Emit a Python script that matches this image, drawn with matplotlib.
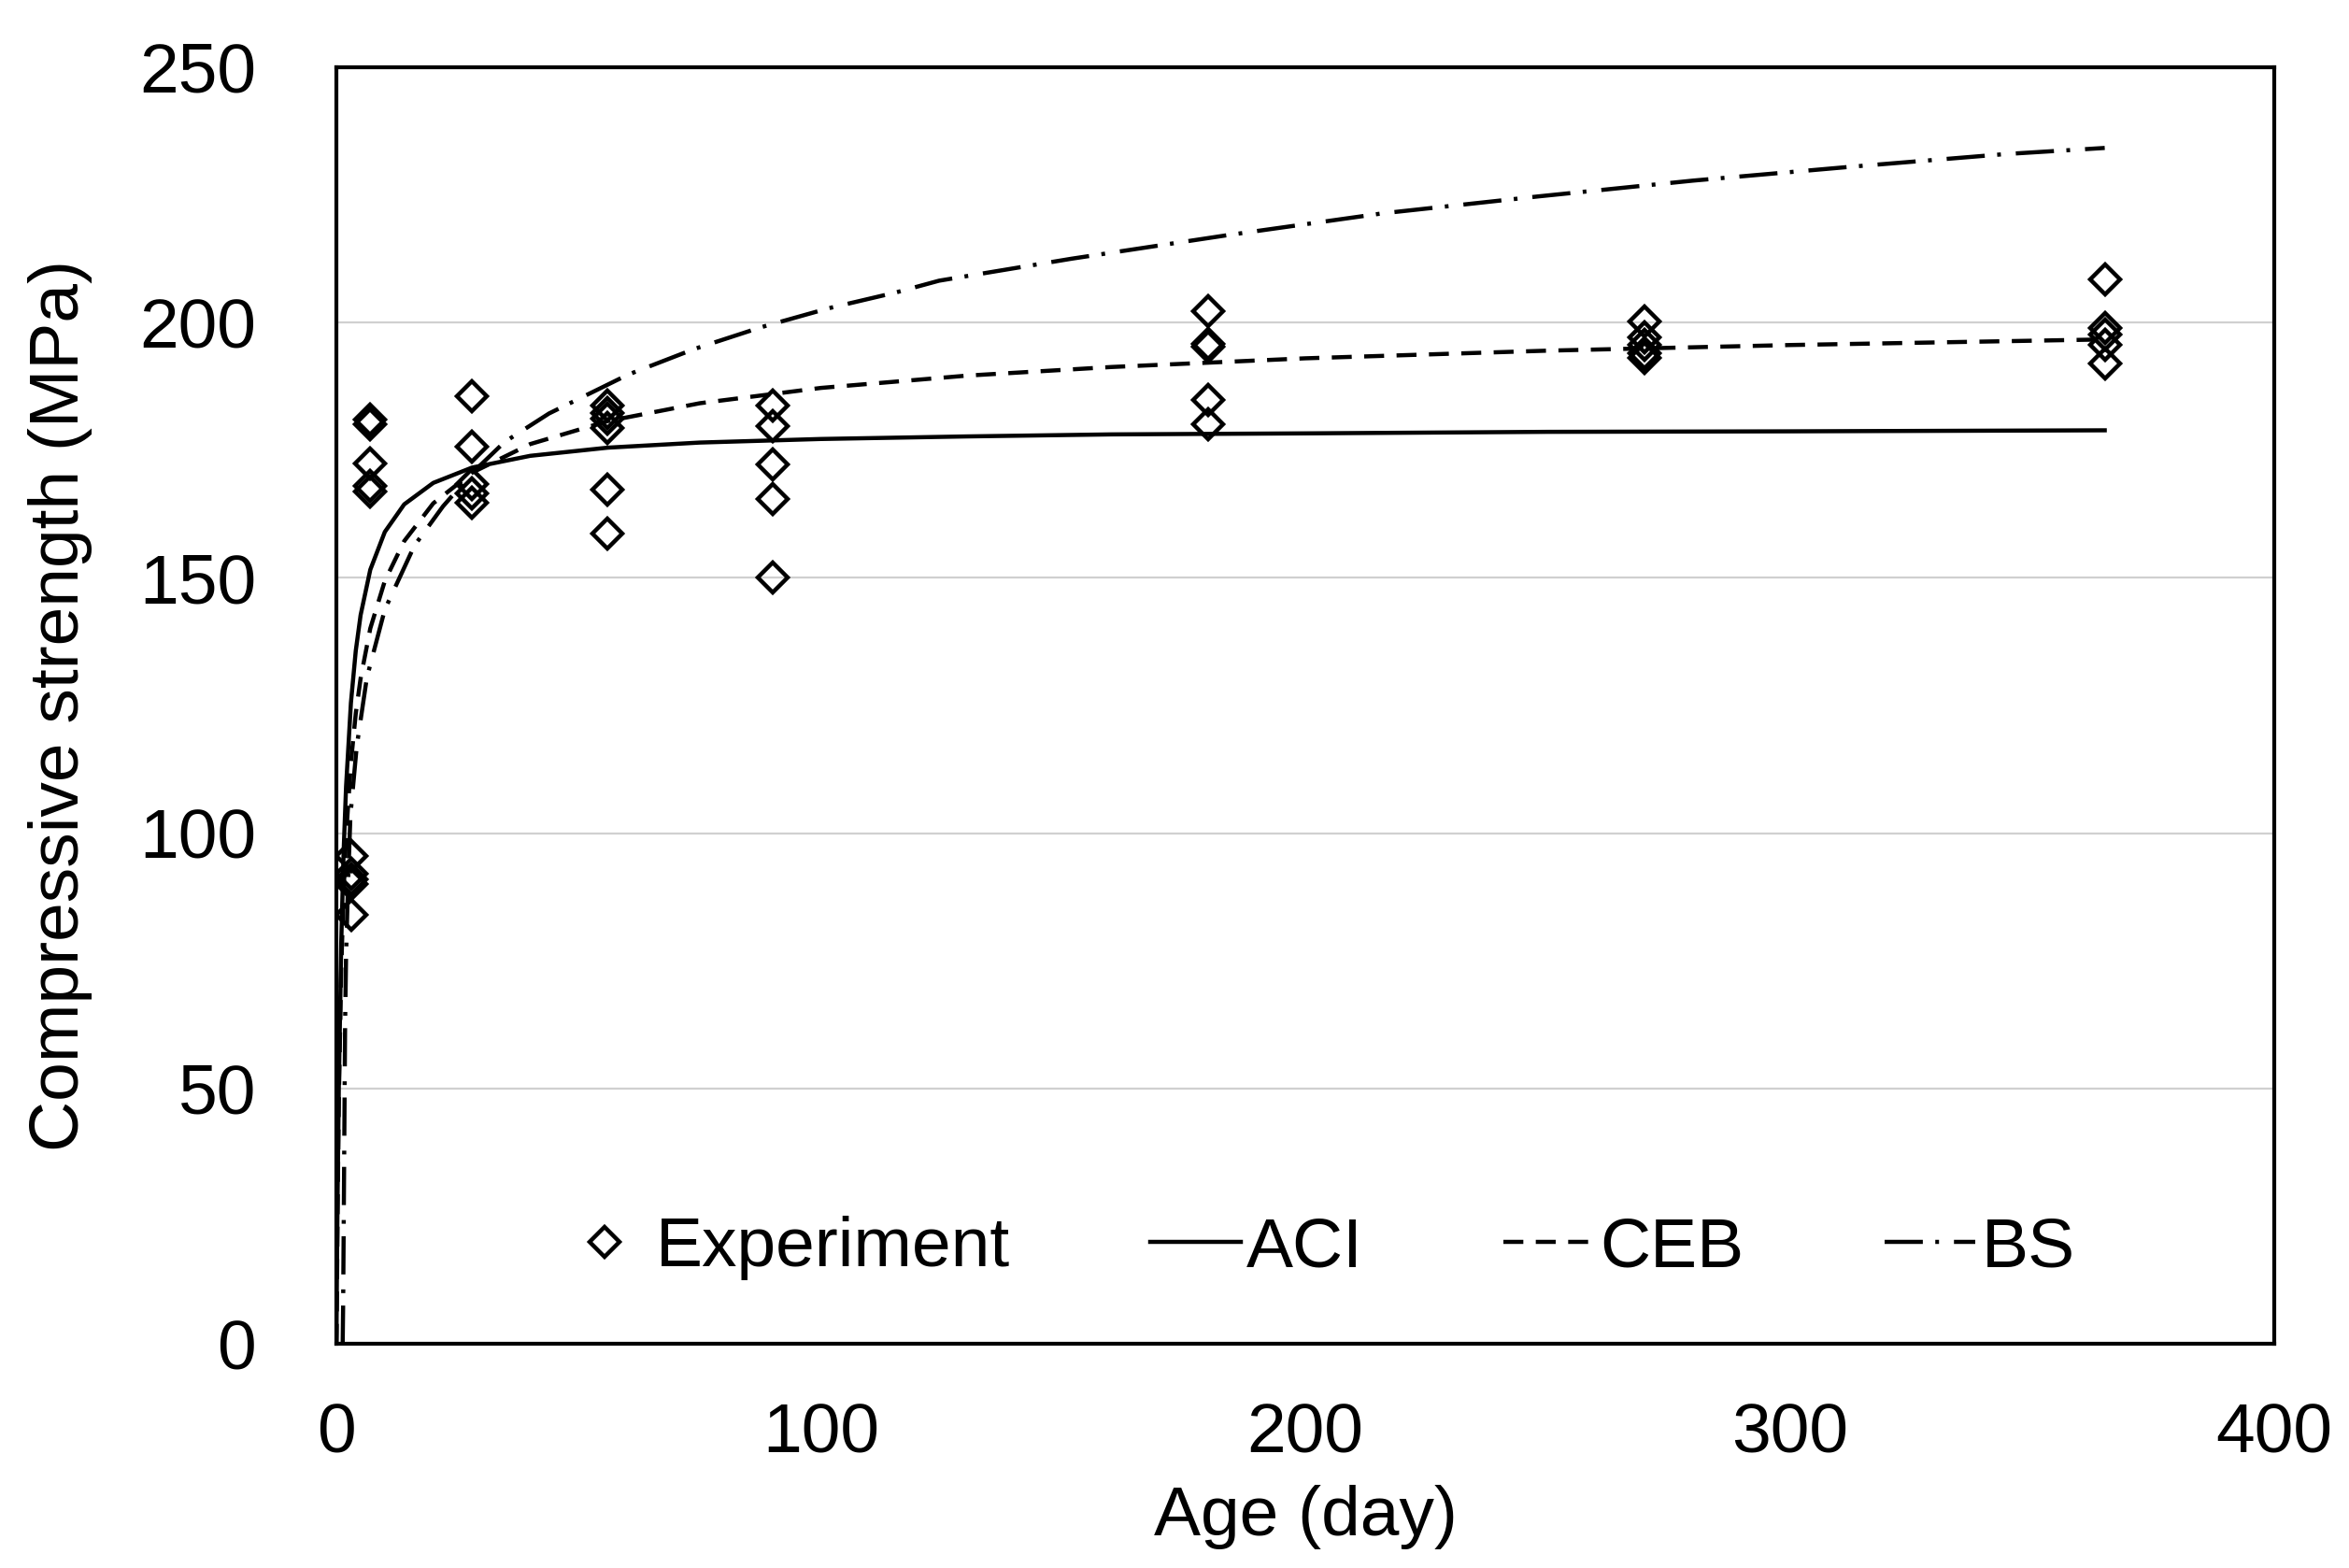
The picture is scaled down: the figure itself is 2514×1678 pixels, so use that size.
import matplotlib
matplotlib.use('Agg')
import matplotlib.pyplot as plt
import numpy as np

# experiment data (age in days, strength in MPa)
exp_age = [3, 3, 3, 3, 3,
           7, 7, 7, 7, 7,
           28, 28, 28, 28, 28,
           56, 56, 56, 56, 56, 56,
           90, 90, 90, 90, 90,
           180, 180, 180, 180, 180,
           270, 270, 270, 270, 270,
           365, 365, 365, 365, 365]
exp_strength = [95.5, 92.0, 91.0, 90.0, 84.0,
                181.0, 180.0, 172.4, 168.0, 167.0,
                185.5, 175.7, 168.4, 166.6, 164.8,
                183.7, 182.2, 181.2, 179.4, 167.2, 158.6,
                183.7, 179.7, 172.2, 165.4, 150.1,
                202.3, 195.8, 195.2, 184.9, 180.0,
                200.2, 197.1, 195.6, 194.0, 193.1,
                208.4, 198.9, 197.7, 195.6, 191.9]

# model curves
aci_age = [0, 0.1, 0.25, 0.5, 1, 1.5, 2, 3, 4, 5, 7, 10, 14, 20, 28, 40, 56,
           75, 100, 130, 160, 200, 250, 300, 365]
aci_val = [0, 12.9, 29.1, 50.1, 78.4, 96.5, 109.1, 125.5, 135.7, 142.7, 151.6,
           159.0, 164.4, 168.6, 171.6, 173.9, 175.5, 176.5, 177.2, 177.7, 178.1,
           178.3, 178.6, 178.7, 178.9]

ceb_age = [0, 0.02, 0.05, 0.1, 0.25, 0.5, 1, 1.5, 2, 3, 4, 5, 7, 10, 14, 20,
           28, 40, 56, 75, 100, 130, 160, 200, 250, 300, 365]
ceb_val = [0, 0.1, 2.0, 7.7, 25.8, 47.6, 73.2, 88.7, 99.4, 113.8, 123.4, 130.3,
           140.1, 149.4, 157.2, 164.6, 170.6, 176.2, 180.7, 184.2, 187.2, 189.6,
           191.3, 193.0, 194.5, 195.6, 196.7]

bs_age = [1.3, 1.4, 1.5, 1.6, 1.7, 1.8, 2.0, 2.4, 2.9, 4.2, 6.3, 10, 16.1, 22,
          28, 34.7, 43.9, 60.2, 73.8, 87.7, 101.6, 115.5, 124.4, 151.7, 183.8,
          216, 248, 280, 312.4, 344.5, 365]
bs_val = [0, 8, 21.5, 35, 49, 62.5, 76, 90, 103.5, 117, 130.5, 143.8, 156.3,
          164, 170.5, 176.6, 182.2, 189.8, 194.8, 199.1, 202.8, 205.9, 208.2,
          212.5, 217.1, 221.4, 224.7, 227.8, 230.5, 233.0, 234.2]

plt.rcParams['font.family'] = ['Liberation Sans', 'DejaVu Sans']

fig = plt.figure(figsize=(25.14, 16.78), dpi=100)
ax = fig.add_axes([0.1432, 0.1430, 0.8250, 0.8141])

ax.plot(exp_age, exp_strength, linestyle='none', marker='D', markersize=16,
        markerfacecolor='none', markeredgecolor='black', markeredgewidth=3.2,
        label='Experiment', zorder=4)
ax.plot(aci_age, aci_val, color='black', lw=3.2, label='ACI', zorder=3)
ax.plot(ceb_age, ceb_val, color='black', lw=3.2, dashes=(4.8, 3.0),
        label='CEB', zorder=3)
ax.plot(bs_age, bs_val, color='black', lw=3.2, dashes=(9.2, 3.0, 0.9, 3.6),
        label='BS', zorder=3)

ax.set(xlim=(0, 400), ylim=(0, 250))
ax.set_xticks(np.arange(0, 401, 100))
ax.set_yticks(np.arange(0, 251, 50))
ax.tick_params(axis='both', length=0, labelsize=54)
ax.tick_params(axis='y', pad=62)
ax.tick_params(axis='x', pad=45)
ax.yaxis.grid(True, color='#d0d0d0', lw=1.6)
ax.set_axisbelow(True)
for s in ax.spines.values():
  s.set_linewidth(3)
  s.set_color('black')

ax.set_xlabel('Age (day)', fontsize=54, labelpad=14)
ax.set_ylabel('Compressive strength (MPa)', fontsize=54, labelpad=36)

ax.legend(loc='center', bbox_to_anchor=(0.506, 0.075), ncol=4, frameon=False,
          fontsize=54, handlelength=1.3, handletextpad=0.08, columnspacing=2.0,
          borderpad=0.2)

plt.savefig('out.png', dpi=100)
